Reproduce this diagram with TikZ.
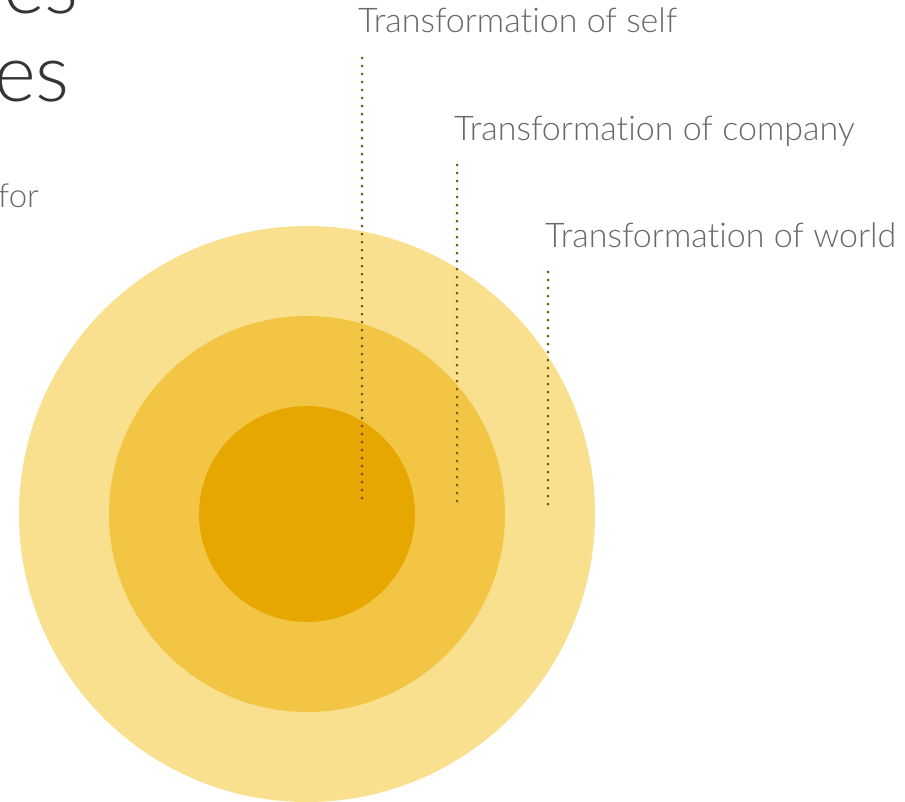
\documentclass[tikz,border=0pt]{standalone}
\usepackage{fontspec}
\setmainfont{Lato Light}[Ligatures=NoCommon]
\definecolor{outerc}{HTML}{F9E08E}
\definecolor{midc}{HTML}{F2C644}
\definecolor{innerc}{HTML}{E6A800}
\definecolor{dotc}{HTML}{76560E}
\definecolor{labc}{HTML}{66686B}
\definecolor{headc}{HTML}{333538}
\tikzset{
  ring/.style={draw=none},
  label/.style={anchor=base west, inner sep=0pt, text=labc, font=\fontsize{34}{40}\selectfont},
  leader/.style={draw=dotc, line width=3pt, line cap=round, dash pattern=on 0pt off 8pt},
  head/.style={anchor=base east, inner sep=0pt, text=headc, font=\fontsize{80}{90}\selectfont},
}
\begin{document}
\begin{tikzpicture}[x=1pt,y=-1pt]
\useasboundingbox (0,0) rectangle (905,801);
\fill[white] (0,0) rectangle (905,801);
\fill[outerc, ring] (307,514) circle (288);
\fill[midc, ring] (307,514) circle (198);
\fill[innerc, ring] (307,514) circle (108);
\node[head] (h1) at (79,13) {es};
\node[head] (h2) at (70,101) {es};
\node[anchor=base east, inner sep=0pt, text=labc, font=\fontsize{33}{38}\selectfont] (sub) at (39,207) {for};
\node[label] (l1) at (358,32) {Transformation of self};
\node[label] (l2) at (454,140) {Transformation of company};
\node[label] (l3) at (545,247) {Transformation of world};
\coordinate (a1) at (362,58);
\coordinate (b1) at (362,504);
\coordinate (a2) at (457,165);
\coordinate (b2) at (457,504);
\coordinate (a3) at (548,272);
\coordinate (b3) at (548,504);
\draw[leader] (a1) -- (b1);
\draw[leader] (a2) -- (b2);
\draw[leader] (a3) -- (b3);
\end{tikzpicture}
\end{document}
